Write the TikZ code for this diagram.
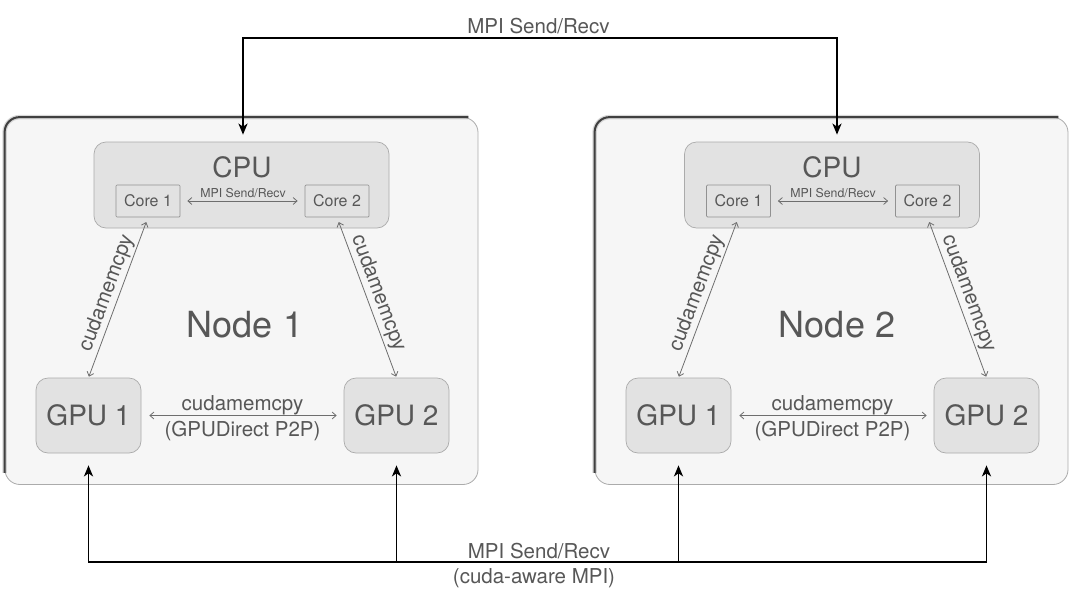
\documentclass[tikz,border=0pt]{standalone}
\usepackage{fontspec}
\setmainfont{TeX Gyre Heros}
\usetikzlibrary{arrows.meta,calc}
\definecolor{txt}{HTML}{575757}
\definecolor{outerfill}{HTML}{F6F6F6}
\definecolor{boxfill}{HTML}{E2E2E2}
\definecolor{boxline}{HTML}{ABABAB}
\definecolor{thinc}{HTML}{6E6E6E}
\newcommand{\myfs}[1]{\fontsize{#1}{#1}\selectfont}
\begin{document}
\begin{tikzpicture}[x=1pt,y=-1pt,
  outerbox/.style={draw=boxline, line width=0.8pt, fill=outerfill, rounded corners=15pt, minimum width=473pt, minimum height=367pt, inner sep=0pt},
  darkedge/.style={draw=black!75, line width=2pt, rounded corners=15pt},
  softedge/.style={draw=black!30, line width=4.5pt, rounded corners=15pt},
  cpubox/.style={draw=boxline, line width=0.7pt, fill=boxfill, rounded corners=12pt, minimum width=295pt, minimum height=86pt, inner sep=0pt},
  corebox/.style={draw=boxline!85!black, line width=0.7pt, fill=boxfill, rounded corners=1pt, minimum width=64pt, minimum height=32pt, inner sep=0pt, font=\myfs{16}, text=txt},
  gpubox/.style={draw=boxline, line width=0.7pt, fill=boxfill, rounded corners=12pt, minimum width=105pt, minimum height=75pt, inner sep=0pt, font=\myfs{28}, text=txt},
  thinarrow/.style={draw=thinc, line width=0.8pt, {Straight Barb[length=4pt,width=7pt]}-{Straight Barb[length=4pt,width=7pt]}},
  bigarrow/.style={draw=black, line width=1.9pt, {Stealth[length=11pt,width=9pt,inset=3pt]}-{Stealth[length=11pt,width=9pt,inset=3pt]}},
  lbl/.style={text=txt, inner sep=0pt, anchor=base},
  slbl/.style={text=txt, inner sep=2pt, font=\myfs{20.7}},
]
\useasboundingbox (0,0) rectangle (1075,597);

% ---------- Node 1 ----------
\node[outerbox] (n1) at (241.5,301) {};
\draw[softedge, opacity=0.5] ([yshift=12pt]n1.south west) -- (n1.north west) -- ([xshift=-10pt]n1.north east);
\draw[darkedge] ([yshift=12pt]n1.south west) -- (n1.north west) -- ([xshift=-10pt]n1.north east);
\node[lbl, font=\myfs{36}] (n1t) at (245,337) {Node 1};
\node[cpubox] (cpu1) at (241.5,185) {};
\node[lbl, font=\myfs{28}] (cpu1t) at (242,177) {CPU};
\node[corebox] (c11) at (148,201) {Core 1};
\node[corebox] (c12) at (337,201) {Core 2};
\node[gpubox] (g11) at (88.5,415.5) {GPU 1};
\node[gpubox] (g12) at (396.5,415.5) {GPU 2};
\draw[thinarrow, shorten <=7pt, shorten >=7pt] (c11) -- (c12);
\node[lbl, font=\myfs{12.3}] (m1) at (243,197) {MPI Send/Recv};
\draw[thinarrow, shorten <=8pt, shorten >=7pt] (g11) -- (g12);
\node[lbl, font=\myfs{20.5}] (cm1) at (242.5,410) {cudamemcpy};
\node[lbl, font=\myfs{20.5}] (p1) at (242.5,436) {(GPUDirect P2P)};
\draw[thinarrow, shorten >=5pt, shorten <=1pt] (g11.north) -- node[slbl, midway, sloped, above] {cudamemcpy} (c11.south);
\draw[thinarrow, shorten <=5pt, shorten >=1pt] (c12.south) -- node[slbl, midway, sloped, above] {cudamemcpy} (g12.north);

% ---------- Node 2 ----------
\node[outerbox] (n2) at (831.5,301) {};
\draw[softedge, opacity=0.5] ([yshift=12pt]n2.south west) -- (n2.north west) -- ([xshift=-10pt]n2.north east);
\draw[darkedge] ([yshift=12pt]n2.south west) -- (n2.north west) -- ([xshift=-10pt]n2.north east);
\node[lbl, font=\myfs{36}] (n2t) at (837,337) {Node 2};
\node[cpubox] (cpu2) at (832,185) {};
\node[lbl, font=\myfs{28}] (cpu2t) at (832,177) {CPU};
\node[corebox] (c21) at (738.5,201) {Core 1};
\node[corebox] (c22) at (927.5,201) {Core 2};
\node[gpubox] (g21) at (678.5,415.5) {GPU 1};
\node[gpubox] (g22) at (986.5,415.5) {GPU 2};
\draw[thinarrow, shorten <=7pt, shorten >=7pt] (c21) -- (c22);
\node[lbl, font=\myfs{12.3}] (m2) at (833,197) {MPI Send/Recv};
\draw[thinarrow, shorten <=8pt, shorten >=7pt] (g21) -- (g22);
\node[lbl, font=\myfs{20.5}] (cm2) at (832.5,410) {cudamemcpy};
\node[lbl, font=\myfs{20.5}] (p2) at (832.5,436) {(GPUDirect P2P)};
\draw[thinarrow, shorten >=5pt, shorten <=1pt] (g21.north) -- node[slbl, midway, sloped, above] {cudamemcpy} (c21.south);
\draw[thinarrow, shorten <=5pt, shorten >=1pt] (c22.south) -- node[slbl, midway, sloped, above] {cudamemcpy} (g22.north);

% ---------- inter-node connectors ----------
\draw[bigarrow, shorten <=7pt, shorten >=7pt] ([xshift=1.5pt]cpu1.north) -- ++(0,-104) -| ([xshift=5pt]cpu2.north);
\node[lbl, font=\myfs{20.5}] (top) at (538.5,33) {MPI Send/Recv};

\draw[bigarrow, shorten <=12pt, shorten >=12pt] (g11.south) -- ++(0,109) -| (g21.south);
\draw[bigarrow, shorten <=12pt, shorten >=12pt] (g12.south) -- ++(0,109) -| (g22.south);
\node[lbl, font=\myfs{20.5}] (bot1) at (539,558) {MPI Send/Recv};
\node[lbl, font=\myfs{20.5}] (bot2) at (534,583) {(cuda-aware MPI)};
\end{tikzpicture}
\end{document}
